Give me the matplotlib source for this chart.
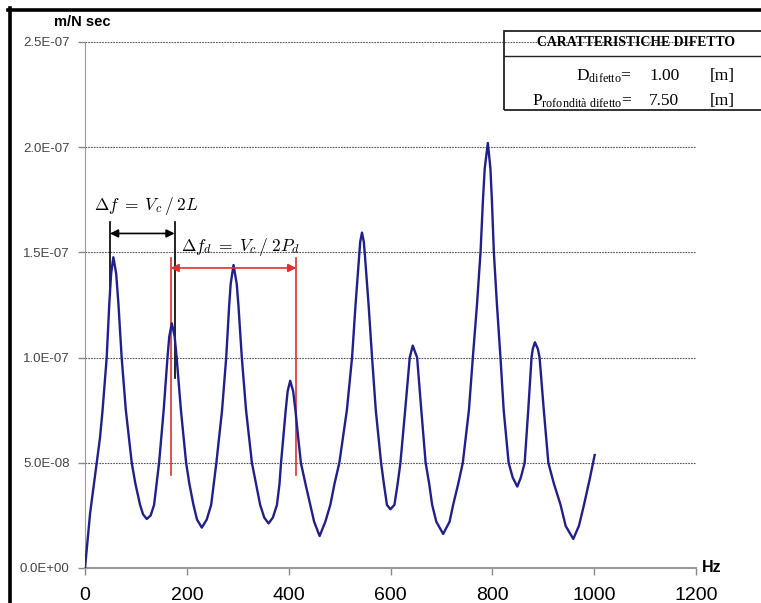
import numpy as np
import matplotlib
matplotlib.use("Agg")
import matplotlib.pyplot as plt
from matplotlib.lines import Line2D
from matplotlib.patches import Rectangle

plt.rcParams['font.family'] = ['Liberation Sans', 'DejaVu Sans']
plt.rcParams['mathtext.fontset'] = 'custom'
plt.rcParams['mathtext.rm'] = 'Liberation Serif'
plt.rcParams['mathtext.it'] = 'Liberation Serif:italic'

# frequency response (Hz, value in 1e-8 m/N sec)
freq = [0, 10, 23, 29.5, 34.5, 42.6, 47.6, 51.3, 55.7, 61.2, 65.8, 72, 80.2, 91.8,
        99, 108.2, 114, 121.3, 129, 135.7, 145.5, 154.5, 162, 165.5, 170.5, 176.1,
        180, 188.4, 198.6, 205, 213, 220, 229.4, 239, 247.8, 258, 269.2, 277.3,
        283.2, 286.1, 291.7, 298, 301.3, 308, 316.3, 327.8, 336, 344, 352, 360.5,
        369, 377, 382, 385, 389.5, 394.2, 398, 403, 408.8, 413.3, 418.7, 424,
        433, 442.5, 450, 460.8, 472, 481.8, 490, 499.5, 514.3, 524.5, 531.3,
        538.8, 540.5, 544, 547.6, 549.3, 557, 563.8, 571.1, 581.5, 587, 593,
        599.8, 607.7, 614, 619.5, 628.8, 637.8, 643.7, 652.3, 660.5, 669, 676,
        681.8, 690, 703.4, 716, 723, 733, 742, 754, 761.7, 769.8, 776.8, 781.6,
        785.1, 791.2, 796.2, 799.1, 803, 809.1, 816, 822.3, 832, 840, 849, 856,
        863.5, 870.5, 877, 879.3, 883.6, 889.6, 892.8, 901.1, 910, 921, 934, 944,
        959, 970, 980, 991, 1001]
resp_e8 = [0, 2.6, 5.0, 6.2, 7.5, 10.0, 12.5, 14.0, 14.77, 14.0, 12.5, 10.0, 7.5, 5.0,
           4.0, 3.0, 2.55, 2.33, 2.5, 3.0, 5.0, 7.5, 10.0, 11.0, 11.63, 11.0,
           10.0, 7.5, 5.0, 4.0, 3.0, 2.3, 1.92, 2.3, 3.0, 5.0, 7.5, 10.0,
           12.5, 13.5, 14.4, 13.5, 12.5, 10.0, 7.5, 5.0, 4.0, 3.0, 2.4, 2.12,
           2.4, 3.0, 4.0, 5.0, 6.2, 7.5, 8.4, 8.9, 8.4, 7.5, 6.2, 5.0,
           4.0, 3.0, 2.2, 1.52, 2.2, 3.0, 4.0, 5.0, 7.5, 10.0, 12.5,
           15.0, 15.5, 15.94, 15.5, 15.0, 12.5, 10.0, 7.5, 5.0, 4.0, 3.0,
           2.79, 3.0, 4.0, 5.0, 7.5, 10.0, 10.57, 10.0, 7.5, 5.0, 4.0,
           3.0, 2.2, 1.62, 2.2, 3.0, 4.0, 5.0, 7.5, 10.0, 12.5, 15.0, 17.5,
           19.0, 20.2, 19.0, 17.5, 15.0, 12.5, 10.0, 7.5, 5.0, 4.3, 3.87, 4.3,
           5.0, 7.5, 10.0, 10.4, 10.73, 10.4, 10.0, 7.5, 5.0, 4.0, 3.0, 2.0,
           1.38, 2.0, 3.0, 4.2, 5.37]
resp = np.array(resp_e8) * 1e-8

x_ticks = [0, 200, 400, 600, 800, 1000, 1200]
y_ticks = [0, 5e-8, 1e-7, 1.5e-7, 2e-7, 2.5e-7]
y_labels = ['0.0E+00', '5.0E-08', '1.0E-07', '1.5E-07', '2.0E-07', '2.5E-07']

# annotation markers (Hz / m/N sec)
df_x = [49, 176]
df_y = 1.59e-7
dfd_x = [168, 415]
dfd_y = 1.426e-7

W, H = 761, 603
fig = plt.figure(figsize=(W / 100, H / 100), dpi=100)
ax = fig.add_axes([85 / W, 1 - 568 / H, 611 / W, 526 / H])

ax.plot(freq, resp, color='#1f1f8f', lw=1.7, zorder=3, solid_joinstyle='round')

ax.set_xlim(0, 1200)
ax.set_ylim(0, 2.5e-7)
ax.set_xticks(x_ticks)
ax.set_xticklabels([str(t) for t in x_ticks], fontsize=14)
ax.set_yticks(y_ticks)
ax.set_yticklabels(y_labels, fontsize=9.5, color='#444444')
ax.tick_params(axis='x', length=5, width=1, color='#888888', pad=9)
ax.tick_params(axis='y', length=5, width=1, color='#888888', pad=6)
ax.grid(axis='y', color='#555555', linestyle=(0, (1.5, 1)), lw=0.8)
ax.set_axisbelow(True)
for s in ['top', 'right']:
    ax.spines[s].set_visible(False)
ax.spines['left'].set_color('#999999')
ax.spines['bottom'].set_color('#999999')
ax.spines['bottom'].set_linewidth(1.5)

ax.text(-0.05, 1.038, 'm/N sec', transform=ax.transAxes, fontsize=10.5,
        fontweight='bold', ha='left', va='center')
ax.text(1.01, 0.0, 'Hz', transform=ax.transAxes, fontsize=11.5,
        fontweight='bold', ha='left', va='center')

# delta f markers (black)
ax.plot([df_x[0], df_x[0]], [1.297e-7, 1.644e-7], color='black', lw=1.2)
ax.plot([df_x[1], df_x[1]], [0.903e-7, 1.644e-7], color='black', lw=1.2)
ax.annotate('', xy=(df_x[0], df_y), xytext=(df_x[1], df_y),
            arrowprops=dict(arrowstyle='<|-|>', color='black', lw=1.2,
                            mutation_scale=12, shrinkA=0, shrinkB=0))
ax.text(18, 1.72e-7, r'$\Delta f\;=\;V_c\,/\;2L$', fontsize=12.5,
        math_fontfamily='cm', ha='left', va='center')

# delta f_d markers (red)
red = '#e03030'
for xx in dfd_x:
    ax.plot([xx, xx], [0.44e-7, 1.473e-7], color=red, lw=1.2)
ax.annotate('', xy=(dfd_x[0], dfd_y), xytext=(dfd_x[1], dfd_y),
            arrowprops=dict(arrowstyle='<|-|>', color=red, lw=1.2,
                            mutation_scale=12, shrinkA=0, shrinkB=0))
ax.text(189, 1.528e-7, r'$\Delta f_d\;=\;V_c\,/\;2P_d$', fontsize=12.5,
        math_fontfamily='cm', ha='left', va='center')

# info box at top right
def fx(px):
    return px / W

def fy(py):
    return 1 - py / H

fig.add_artist(Rectangle((fx(504), fy(110)), fx(300), fy(31) - fy(110),
                         transform=fig.transFigure, fill=False,
                         edgecolor='#222222', lw=1.3, clip_on=False))
fig.add_artist(Line2D([fx(504), 1], [fy(56), fy(56)], color='#222222', lw=1.0))
fig.text(fx(636), fy(43), 'CARATTERISTICHE DIFETTO', family='Liberation Serif',
         fontweight='bold', fontsize=9.9, ha='center', va='center')
fig.text(fx(632), fy(76), r'D$_{\mathrm{difetto}}$=', family='Liberation Serif',
         fontsize=12.5, ha='right', va='center')
fig.text(fx(632), fy(101), r'P$_{\mathrm{rofondità\ difetto}}$=', family='Liberation Serif',
         fontsize=12.5, ha='right', va='center')
fig.text(fx(649), fy(76), '1.00', family='Liberation Serif', fontsize=12.5, va='center')
fig.text(fx(649), fy(101), '7.50', family='Liberation Serif', fontsize=12.5, va='center')
fig.text(fx(710), fy(76), '[m]', family='Liberation Serif', fontsize=12.5, va='center')
fig.text(fx(710), fy(101), '[m]', family='Liberation Serif', fontsize=12.5, va='center')

# black frame on top and left
fig.add_artist(Line2D([fx(8), 1], [fy(10), fy(10)], color='black', lw=2.6))
fig.add_artist(Line2D([fx(10), fx(10)], [0, fy(8)], color='black', lw=2.6))

fig.savefig('out.png', dpi=100)
